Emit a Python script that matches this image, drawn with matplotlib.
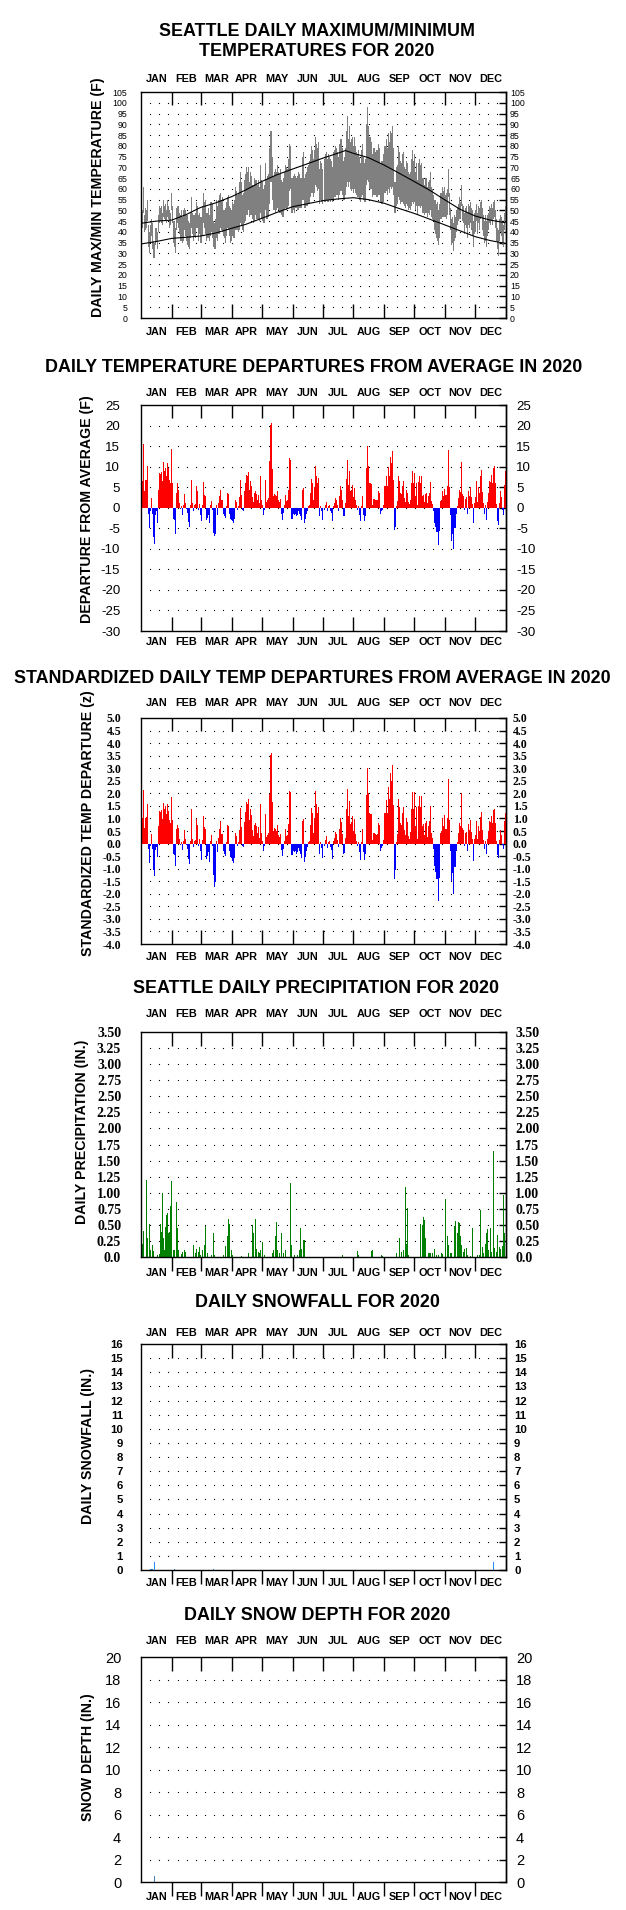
import numpy as np
import matplotlib
matplotlib.use("Agg")
import matplotlib.pyplot as plt
from matplotlib import font_manager
from matplotlib.font_manager import FontProperties

# -------------------------------
# 1. DATA (one value per day of 2020)
# -------------------------------
months = ["JAN", "FEB", "MAR", "APR", "MAY", "JUN",
          "JUL", "AUG", "SEP", "OCT", "NOV", "DEC"]
month_lengths = [31, 29, 31, 30, 31, 30, 31, 31, 30, 31, 30, 31]

# normal max / min temperature curves (F)
normal_days = [0, 15, 31, 45, 60, 75, 91, 105, 121, 136, 152, 166, 182,
               197, 205, 213, 228, 244, 258, 274, 289, 305, 320, 335, 350, 365]
normal_max = [44.0, 45.0, 45.5, 48.0, 51.4, 53.5, 56.4, 59.5, 63.4, 66.5, 69.2, 71.5, 74.2,
              76.5, 77.8, 76.5, 74.5, 71.0, 67.5, 63.4, 59.5, 54.8, 50.5, 47.4, 45.5, 44.3]
normal_min = [34.4, 35.5, 37.0, 37.5, 38.1, 39.5, 41.7, 43.5, 46.3, 49.0, 51.7, 53.0, 54.5,
              55.3, 55.6, 55.9, 55.0, 53.3, 51.0, 48.6, 46.0, 43.2, 40.5, 37.8, 36.0, 34.7]

tmax = [
    55, 50, 61, 48, 51, 50, 55, 43, 40, 43, 46, 44, 36, 35, 42, 42, 40, 48, 52, 51, 52, 49, 55, 52, 53, 50, 55, 52, 50, 49, 58,
    52, 45, 45, 42, 51, 52, 52, 49, 48, 50, 47, 50, 51, 50, 48, 48, 45, 44, 49, 56, 49, 48, 48, 49, 54, 52, 48, 49, 47,
    47, 52, 58, 54, 55, 49, 49, 51, 48, 54, 54, 53, 45, 44, 46, 55, 52, 55, 57, 58, 55, 56, 50, 50, 51, 54, 56, 57, 52, 51, 50,
    54, 53, 55, 61, 59, 57, 58, 63, 68, 63, 57, 58, 64, 67, 70, 68, 70, 63, 68, 66, 62, 62, 65, 64, 64, 62, 64, 61, 71, 64,
    63, 60, 62, 72, 64, 66, 67, 79, 87, 87, 75, 66, 68, 69, 68, 71, 68, 67, 69, 64, 63, 65, 68, 71, 70, 69, 74, 81, 80, 65, 65,
    66, 67, 66, 65, 66, 68, 67, 65, 65, 75, 77, 65, 67, 68, 70, 71, 73, 76, 80, 78, 74, 78, 84, 81, 79, 82, 69, 73, 72, 69,
    71, 74, 74, 76, 77, 74, 76, 75, 74, 73, 70, 77, 78, 80, 79, 77, 75, 81, 83, 83, 79, 73, 75, 79, 87, 94, 83, 89, 82, 83, 84,
    80, 84, 80, 77, 76, 78, 75, 72, 78, 81, 75, 72, 74, 90, 98, 89, 84, 84, 82, 76, 79, 79, 77, 78, 78, 81, 79, 72, 73, 73, 76,
    80, 80, 83, 79, 86, 82, 87, 86, 89, 79, 63, 63, 70, 71, 80, 77, 73, 72, 76, 77, 70, 69, 73, 72, 68, 67, 68, 74, 78, 73,
    76, 68, 72, 64, 72, 74, 71, 72, 65, 65, 62, 65, 65, 61, 63, 64, 68, 61, 60, 57, 55, 55, 53, 54, 50, 53, 58, 58, 61, 59, 61,
    57, 58, 60, 69, 58, 51, 46, 47, 44, 48, 47, 50, 51, 53, 56, 54, 62, 53, 52, 49, 51, 52, 49, 53, 52, 54, 51, 50, 45, 49,
    50, 53, 49, 52, 51, 54, 55, 51, 48, 45, 48, 45, 48, 49, 52, 51, 53, 51, 54, 55, 50, 46, 42, 41, 46, 48, 47, 44, 43, 49, 52,
]
tmin = [
    45, 42, 49, 40, 41, 42, 45, 33, 30, 35, 38, 32, 28, 28, 34, 36, 32, 40, 44, 45, 44, 43, 47, 46, 45, 44, 47, 46, 42, 43, 50,
    44, 35, 33, 30, 41, 44, 42, 39, 36, 36, 35, 36, 41, 38, 36, 34, 33, 32, 37, 42, 39, 36, 38, 37, 42, 42, 36, 39, 35,
    35, 38, 44, 42, 39, 36, 37, 37, 36, 38, 40, 37, 33, 32, 32, 37, 36, 39, 39, 42, 41, 40, 38, 37, 35, 38, 42, 41, 38, 35, 36,
    38, 37, 37, 41, 41, 41, 40, 41, 44, 43, 41, 40, 44, 45, 48, 48, 50, 47, 48, 48, 46, 44, 45, 48, 46, 46, 46, 45, 49, 46,
    45, 44, 44, 50, 46, 46, 47, 53, 63, 63, 55, 50, 50, 49, 50, 51, 50, 49, 49, 48, 47, 47, 50, 51, 50, 51, 52, 59, 60, 49, 49,
    50, 49, 51, 51, 50, 50, 51, 51, 51, 55, 55, 51, 51, 52, 52, 53, 53, 56, 58, 58, 56, 58, 62, 61, 59, 60, 53, 55, 54, 53,
    53, 54, 54, 54, 55, 54, 54, 55, 54, 55, 54, 55, 56, 56, 57, 57, 55, 57, 59, 59, 57, 55, 55, 57, 61, 63, 61, 63, 60, 59, 60,
    58, 60, 58, 57, 56, 56, 55, 54, 56, 57, 55, 54, 54, 62, 64, 63, 60, 60, 60, 56, 57, 57, 57, 56, 56, 57, 57, 54, 53, 53, 54,
    58, 58, 59, 57, 60, 58, 61, 60, 61, 57, 49, 49, 52, 53, 56, 55, 53, 54, 54, 53, 52, 51, 53, 52, 50, 51, 50, 52, 54, 53,
    54, 50, 52, 48, 52, 52, 51, 52, 49, 49, 48, 49, 49, 47, 49, 48, 50, 47, 46, 45, 41, 39, 37, 36, 34, 37, 46, 46, 47, 47, 47,
    47, 46, 48, 56, 48, 41, 34, 35, 31, 36, 37, 40, 43, 45, 46, 46, 52, 45, 44, 39, 43, 42, 37, 43, 42, 44, 41, 38, 33, 39,
    40, 45, 39, 44, 41, 46, 47, 41, 38, 35, 36, 33, 38, 41, 44, 43, 45, 43, 46, 47, 42, 36, 32, 29, 36, 40, 38, 34, 33, 41, 45,
]

# daily mean temperature departure from normal (F)
temp_departure = [
    10.1, 6.6, 15.6, 4.1, 6.7, 6.8, 10.2, -1.5, -5.0, -0.7, 2.4, -1.5, -7.2, -8.9, -1.7, -0.9, -3.6, 4.4, 8.5, 8.2, 8.7, 6.4, 11.1, 8.9, 9.7, 7.6, 10.9, 9.7, 6.8, 6.0, 14.4,
    6.0, -2.7, -3.0, -6.3, 3.7, 5.9, 4.4, 1.1, -0.3, 0.3, -1.7, 0.6, 3.4, 1.1, -0.3, -1.3, -3.5, -4.7, 0.6, 6.8, 1.1, -0.7, 0.6, 0.9, 5.4, 4.1, -0.5, 1.0, -1.7,
    -3.2, 0.7, 6.3, 3.2, 2.9, -3.0, -2.5, -1.7, -3.6, 0.6, 1.7, -0.5, -6.1, -7.0, -6.3, 0.6, -1.7, 1.1, 2.9, 4.4, 2.0, 2.0, -1.5, -2.0, -2.5, 0.3, 3.6, 3.4, -1.5, -2.7, -2.9,
    -3.3, -3.8, -2.7, 2.0, 1.4, -0.5, 0.3, 2.5, 6.8, 3.2, -0.5, -0.7, 4.1, 6.0, 8.0, 7.6, 8.6, 4.4, 6.6, 5.4, 2.5, 1.5, 3.6, 4.0, 3.3, 2.0, 3.2, 1.1, 7.6, 2.0,
    0.7, -1.7, -0.5, 6.8, 1.4, 2.0, 2.4, 11.3, 20.2, 20.5, 9.5, 2.8, 3.4, 3.2, 2.8, 4.1, 2.0, 1.4, 2.2, -1.5, -2.9, -1.3, 0.7, 3.2, 1.7, 2.0, 4.4, 12.1, 11.7, -2.7, -2.7,
    -1.5, -1.7, -1.5, -2.1, -1.7, -0.9, -1.5, -2.1, -2.9, 4.4, 4.8, -3.6, -2.7, -1.5, -0.7, 0.3, 0.6, 3.6, 7.0, 5.9, 2.0, 5.0, 10.2, 7.8, 6.0, 7.2, -2.1, 0.3, -0.9, -2.9,
    -2.7, -0.9, -0.5, 0.7, 1.5, -0.9, 0.3, 0.6, -0.7, -1.3, -3.3, 0.5, 1.1, 2.4, 2.0, 0.7, -0.7, 2.9, 5.2, 4.4, 2.0, -2.1, -1.9, 1.1, 7.1, 11.7, 5.6, 8.9, 4.0, 4.4, 5.6,
    2.5, 4.8, 2.0, 0.6, -0.5, 0.3, -1.7, -3.2, 0.3, 2.8, -1.7, -3.3, -2.1, 9.7, 15.1, 10.1, 6.0, 5.9, 5.8, 0.7, 2.2, 2.2, 2.0, 1.8, 2.0, 4.0, 3.6, -1.5, -0.9, -0.5, 0.7,
    5.4, 5.4, 7.6, 5.4, 9.9, 7.8, 12.3, 10.9, 13.7, 6.8, -5.4, -4.6, 0.3, 1.7, 7.8, 6.4, 3.6, 3.3, 5.4, 6.4, 2.4, 1.5, 4.4, 3.7, 1.4, 0.9, 2.0, 6.0, 9.0, 6.0,
    8.5, 2.9, 5.9, 0.7, 6.2, 7.8, 6.0, 7.8, 2.8, 3.2, 1.4, 3.4, 3.7, 1.1, 2.8, 3.7, 6.2, 1.7, 0.9, -0.9, -3.7, -4.6, -5.8, -5.8, -9.0, -5.6, 1.7, 2.0, 4.1, 2.8, 4.6,
    3.2, 3.2, 5.4, 14.1, 5.0, -1.7, -8.0, -6.4, -10.0, -5.0, -5.0, -1.5, 0.3, 2.4, 4.4, 3.8, 11.1, 3.3, 2.8, -0.5, 2.2, 2.6, -1.5, 4.1, 2.8, 5.0, 2.5, 0.9, -3.7, 1.1,
    2.5, 6.6, 1.4, 5.0, 3.7, 7.6, 9.3, 3.8, 1.1, -1.5, 0.7, -2.9, 1.4, 3.6, 6.6, 6.2, 8.0, 6.0, 9.7, 10.1, 6.0, 0.9, -3.3, -4.1, 1.1, 4.0, 2.5, -0.5, -1.7, 5.6, 9.0,
]

# standardized departure (z)
std_departure = [
    1.55, 1.02, 2.14, 0.63, 1.03, 1.05, 1.57, -0.23, -0.77, -0.11, 0.37, -0.23, -1.05, -1.29, -0.26, -0.14, -0.55, 0.68, 1.31, 1.26, 1.34, 0.98, 1.6, 1.37, 1.49, 1.17, 1.58, 1.3, 0.93, 0.82, 1.85,
    0.92, -0.42, -0.46, -0.88, 0.57, 0.75, 0.6, 0.17, -0.05, 0.05, -0.26, 0.09, 0.52, 0.17, -0.05, -0.2, -0.6, -0.8, 0.1, 1.38, 0.2, -0.12, 0.11, 0.16, 0.98, 0.75, -0.09, 0.18, -0.31,
    -0.64, 0.14, 1.1, 0.64, 0.58, -0.6, -0.5, -0.34, -0.72, 0.12, 0.34, -0.1, -1.25, -1.75, -1.54, 0.12, -0.34, 0.22, 0.58, 0.88, 0.4, 0.4, -0.3, -0.4, -0.5, 0.06, 0.72, 0.68, -0.3, -0.54, -0.58,
    -0.69, -0.79, -0.56, 0.42, 0.29, -0.1, 0.06, 0.52, 1.42, 0.67, -0.1, -0.15, 0.85, 1.25, 1.67, 1.58, 1.79, 0.92, 1.38, 1.13, 0.52, 0.31, 0.75, 0.83, 0.69, 0.42, 0.67, 0.23, 1.58, 0.42,
    0.12, -0.3, -0.09, 1.19, 0.25, 0.35, 0.42, 1.98, 3.54, 3.6, 1.67, 0.49, 0.6, 0.56, 0.49, 0.72, 0.35, 0.25, 0.39, -0.26, -0.51, -0.23, 0.12, 0.56, 0.3, 0.35, 0.77, 2.1, 2.05, -0.47, -0.47,
    -0.31, -0.35, -0.31, -0.43, -0.35, -0.18, -0.31, -0.43, -0.59, 0.9, 0.98, -0.73, -0.55, -0.31, -0.14, 0.06, 0.12, 0.73, 1.43, 1.2, 0.41, 1.02, 2.08, 1.59, 1.22, 1.47, -0.43, 0.06, -0.18, -0.59,
    -0.52, -0.17, -0.1, 0.13, 0.29, -0.17, 0.06, 0.12, -0.13, -0.25, -0.63, 0.1, 0.21, 0.46, 0.38, 0.13, -0.13, 0.56, 1.0, 0.85, 0.38, -0.4, -0.37, 0.21, 1.37, 2.18, 1.08, 1.71, 0.77, 0.85, 1.08,
    0.5, 0.96, 0.4, 0.12, -0.1, 0.06, -0.34, -0.64, 0.06, 0.56, -0.34, -0.66, -0.42, 1.94, 3.02, 2.02, 1.2, 1.18, 1.16, 0.14, 0.44, 0.44, 0.4, 0.36, 0.4, 0.8, 0.72, -0.3, -0.18, -0.1, 0.14,
    1.23, 1.23, 1.73, 1.23, 2.25, 1.77, 2.8, 2.48, 3.11, 1.55, -1.42, -1.05, 0.07, 0.39, 1.77, 1.45, 0.82, 0.75, 1.23, 1.45, 0.55, 0.34, 1.0, 0.84, 0.32, 0.2, 0.45, 1.36, 2.05, 1.36,
    2.07, 0.71, 1.44, 0.17, 1.51, 1.9, 1.46, 1.9, 0.68, 0.78, 0.34, 0.83, 0.9, 0.27, 0.68, 0.9, 1.51, 0.41, 0.22, -0.22, -0.9, -1.12, -1.41, -1.41, -2.27, -1.37, 0.41, 0.49, 1.0, 0.68, 1.12,
    0.59, 0.59, 1.0, 2.58, 0.93, -0.31, -1.48, -1.19, -2.02, -0.93, -0.93, -0.28, 0.06, 0.44, 0.81, 0.7, 2.0, 0.61, 0.52, -0.09, 0.41, 0.48, -0.28, 0.76, 0.52, 0.93, 0.46, 0.17, -0.69, 0.2,
    0.34, 0.9, 0.19, 0.68, 0.51, 1.04, 1.27, 0.52, 0.15, -0.21, 0.1, -0.4, 0.19, 0.49, 0.9, 0.85, 1.1, 0.82, 1.33, 1.38, 0.82, 0.12, -0.45, -0.56, 0.15, 0.55, 0.34, -0.07, -0.23, 0.88, 1.23,
]

# precipitation: only the wet days (day of year starting at 0, inches)
precip_days = [
    1, 2, 5, 6, 8, 9, 11, 12, 16, 18, 19, 20, 21, 22, 23, 24, 25, 26, 27, 28, 29, 30,
    32, 33, 35, 36, 37, 40, 41, 43, 44, 52, 54, 55, 57, 58, 59,
    61, 63, 64, 66, 70, 72, 73, 82, 84, 86, 87, 88, 90,
    91, 100, 107, 111, 112, 114, 115, 117, 118, 119,
    121, 123, 131, 132, 134, 135, 136, 138, 140, 142, 144, 149, 150,
    153, 156, 158, 159, 160, 162, 163, 164, 167, 169, 176, 177, 178, 180,
    182, 189, 191, 197, 202,
    217, 218, 231, 232, 241, 242,
    256, 259, 261, 263, 265, 266, 267, 268,
    280, 282, 283, 284, 285, 288, 289, 290, 292, 294, 296, 298, 301, 302,
    305, 307, 308, 310, 311, 314, 315, 317, 318, 319, 320, 321, 323, 324, 326, 327, 330, 332,
    337, 339, 340, 342, 343, 345, 346, 347, 348, 350, 351, 353, 354, 356, 357, 359, 360, 362, 363, 364,
]
precip_inches = [
    0.21, 0.40, 1.20, 0.29, 0.51, 0.11, 0.19, 0.09, 0.03, 0.05, 0.51, 0.39, 1.00, 0.30, 0.11, 0.47, 0.65, 0.68, 0.37, 0.39, 0.79, 1.18,
    0.11, 0.11, 0.85, 0.45, 0.11, 0.04, 0.08, 0.11, 0.08, 0.18, 0.06, 0.12, 0.08, 0.15, 0.03,
    0.11, 0.19, 0.48, 0.06, 0.03, 0.38, 0.03, 0.03, 0.17, 0.32, 0.59, 0.52, 0.11,
    0.03, 0.02, 0.06, 0.50, 0.37, 0.59, 0.12, 0.08, 0.06, 0.11,
    0.24, 0.03, 0.06, 0.11, 0.32, 0.54, 0.11, 0.06, 0.37, 0.07, 0.11, 1.15, 0.19,
    0.03, 0.03, 0.11, 0.45, 0.13, 0.27, 0.26, 0.13, 0.03, 0.03, 0.03, 0.56, 0.34, 0.13,
    0.02, 0.02, 0.02, 0.14, 0.03,
    0.09, 0.03, 0.09, 0.11, 0.03, 0.02,
    0.06, 0.30, 0.08, 0.11, 1.09, 0.21, 0.77, 0.03,
    0.52, 0.50, 0.63, 0.58, 0.29, 0.07, 0.06, 0.06, 0.07, 0.12, 0.03, 0.03, 0.06, 0.05,
    0.91, 0.33, 0.19, 0.06, 0.07, 0.48, 0.56, 0.37, 0.55, 0.53, 0.32, 0.19, 0.08, 0.13, 0.14, 0.03, 0.02, 0.45,
    0.03, 0.03, 0.73, 0.16, 0.06, 0.21, 0.37, 0.43, 0.11, 0.45, 0.08, 1.65, 0.14, 0.08, 0.34, 0.16, 0.13, 0.17, 0.97, 0.37,
]

snow_days = [9, 10, 11, 13, 33, 72, 353]
snow_inches = [0.1, 0.1, 0.1, 0.6, 0.05, 0.05, 0.6]

depth_days = [13]
depth_inches = [0.5]

assert len(tmax) == len(tmin) == len(temp_departure) == len(std_departure) == 366
assert len(precip_days) == len(precip_inches)

# -------------------------------
# 2. FIGURE SETUP
# -------------------------------
FIG_W, FIG_H = 626, 1910
fig = plt.figure(figsize=(FIG_W / 100, FIG_H / 100), dpi=100)
fig.patch.set_facecolor("white")

names = {f.name for f in font_manager.fontManager.ttflist}
NARROW = "Liberation Sans Narrow" if "Liberation Sans Narrow" in names else None

if NARROW:
    month_fp = FontProperties(family=NARROW, weight="bold", size=8.6)
    p1_tick_fp = FontProperties(family=NARROW, size=6.6)
else:
    month_fp = FontProperties(family="Liberation Sans", weight="bold", size=7.8)
    p1_tick_fp = FontProperties(family="Liberation Sans", size=6.3)

title_fp = FontProperties(family="Liberation Sans", weight="bold", size=12.9)
ylabel_fp = FontProperties(family="Liberation Sans", weight="bold", size=10.2)

month_starts = np.cumsum([0] + month_lengths[:-1])
month_mids = month_starts + np.array(month_lengths) / 2.0
days = np.arange(366)


def fx(px):
    return px / FIG_W


def fy(py):
    return 1 - py / FIG_H


def make_panel(top, bottom, yticks, ylabels, tick_fp, left_pad, right_pad,
               top_gap, bottom_gap, bottom_out):
    h = bottom - top
    ax = fig.add_axes([fx(141), fy(bottom), 365 / FIG_W, h / FIG_H])
    ax.set_xticks([])
    ax.set_yticks(yticks, labels=ylabels, fontproperties=tick_fp)
    ax.tick_params(axis="y", left=False, right=False, pad=left_pad)
    sec = ax.secondary_yaxis("right")
    sec.set_ticks(yticks, labels=ylabels, fontproperties=tick_fp)
    sec.tick_params(axis="y", direction="in", length=5, width=1, pad=right_pad)
    for sp in ax.spines.values():
        sp.set_linewidth(1)
    sec.spines["right"].set_linewidth(1)

    # dotted grid rows
    dots_x = np.arange(1, 40) * 366 / 40
    for y in yticks[1:-1]:
        ax.plot(dots_x, np.full(len(dots_x), y), ls="none", marker="s",
                ms=0.8, mew=0, color="black", zorder=1)

    # month boundary ticks
    tr = ax.get_xaxis_transform()
    frac = 13.5 / h
    ax.vlines(month_starts[1:], 1 - frac, 1, transform=tr, colors="black", lw=1)
    if bottom_out:
        ax.vlines(month_starts[1:], -frac, 0, transform=tr, colors="black",
                  lw=1, clip_on=False)
    else:
        ax.vlines(month_starts[1:], 0, frac, transform=tr, colors="black", lw=1)

    for name, mid in zip(months, month_mids):
        ax.text(mid, 1 + top_gap / h, name, transform=tr, ha="center",
                va="center", fontproperties=month_fp)
        ax.text(mid, -bottom_gap / h, name, transform=tr, ha="center",
                va="center", fontproperties=month_fp)

    ax.set_xlim(0, 366)
    ax.set_ylim(yticks[0], yticks[-1])
    return ax


def title(cx, cy, text):
    fig.text(fx(cx), fy(cy), text, ha="center", va="center", fontproperties=title_fp)


def ylabel(cx, cy, text):
    fig.text(fx(cx), fy(cy), text, ha="center", va="center", rotation=90,
             fontproperties=ylabel_fp)


def sign_colors(values):
    return ["#FF0000" if v >= 0 else "#0000FF" for v in values]


# -------------------------------
# 3. PANEL 1: DAILY MAX / MIN
# -------------------------------
t_ticks = list(range(0, 106, 5))
ax1 = make_panel(92, 318, t_ticks, [str(t) for t in t_ticks], p1_tick_fp,
                 6.5, 2.9, 13, 14, False)
ax1.bar(days + 0.5, np.array(tmax) - np.array(tmin), bottom=tmin, width=1.0,
        color="#808080", linewidth=0, zorder=2)
ax1.plot(normal_days, normal_max, color="black", lw=0.8, zorder=3)
ax1.plot(normal_days, normal_min, color="black", lw=0.8, zorder=3)
title(317, 31, "SEATTLE DAILY MAXIMUM/MINIMUM")
title(317, 51, "TEMPERATURES FOR 2020")
ylabel(98, 197, "DAILY MAX/MIN TEMPERATURE (F)")

# -------------------------------
# 4. PANEL 2: DEPARTURES
# -------------------------------
d_ticks = list(range(-30, 26, 5))
ax2 = make_panel(405, 631, d_ticks, [str(t) for t in d_ticks],
                 FontProperties(family="Liberation Sans", size=9.5),
                 11.5, 7.2, 12, 11, False)
ax2.bar(days + 0.5, temp_departure, width=1.0, color=sign_colors(temp_departure),
        linewidth=0, zorder=2)
title(314, 367, "DAILY TEMPERATURE DEPARTURES FROM AVERAGE IN 2020")
ylabel(87, 509, "DEPARTURE FROM AVERAGE (F)")

# -------------------------------
# 5. PANEL 3: STANDARDIZED DEPARTURES
# -------------------------------
z_ticks = [v / 2 for v in range(-8, 11)]
ax3 = make_panel(718, 944, z_ticks, ["%.1f" % v for v in z_ticks],
                 FontProperties(family="Liberation Serif", weight="bold", size=8.6),
                 10.8, 5.0, 15, 13, False)
ax3.bar(days + 0.5, std_departure, width=1.0, color=sign_colors(std_departure),
        linewidth=0, zorder=2)
title(312, 678, "STANDARDIZED DAILY TEMP DEPARTURES FROM AVERAGE IN 2020")
ylabel(88, 823, "STANDARDIZED TEMP DEPARTURE (z)")

# -------------------------------
# 6. PANEL 4: PRECIPITATION
# -------------------------------
p_ticks = [v * 0.25 for v in range(0, 15)]
p_labels = ["0.0"] + ["%.2f" % v for v in p_ticks[1:]]
ax4 = make_panel(1032, 1257, p_ticks, p_labels,
                 FontProperties(family="Liberation Serif", weight="bold", size=10),
                 10.8, 6.5, 18, 16, True)
ax4.bar(np.array(precip_days) + 0.5, precip_inches, width=0.9, color="#008000",
        linewidth=0, zorder=2)
title(316, 988, "SEATTLE DAILY PRECIPITATION FOR 2020")
ylabel(82, 1132, "DAILY PRECIPITATION (IN.)")

# -------------------------------
# 7. PANEL 5: SNOWFALL
# -------------------------------
s_ticks = list(range(0, 17))
ax5 = make_panel(1344, 1570, s_ticks, [str(t) for t in s_ticks],
                 FontProperties(family="Liberation Sans", weight="bold", size=8.2),
                 9.4, 5.8, 11.5, 12.5, True)
ax5.bar(np.array(snow_days) + 0.5, snow_inches, width=0.9, color="#1E90FF",
        linewidth=0, zorder=2)
title(317, 1302, "DAILY SNOWFALL FOR 2020")
ylabel(88, 1446, "DAILY SNOWFALL (IN.)")

# -------------------------------
# 8. PANEL 6: SNOW DEPTH
# -------------------------------
sd_ticks = list(range(0, 21, 2))
ax6 = make_panel(1657, 1882, sd_ticks, [str(t) for t in sd_ticks],
                 FontProperties(family="Liberation Sans", size=10.5),
                 10.8, 7.2, 16, 15, True)
ax6.bar(np.array(depth_days) + 0.5, depth_inches, width=0.9, color="#4682B4",
        linewidth=0, zorder=2)
title(317, 1615, "DAILY SNOW DEPTH FOR 2020")
ylabel(88, 1757, "SNOW DEPTH (IN.)")

fig.savefig("out.png", dpi=100, facecolor="white")
